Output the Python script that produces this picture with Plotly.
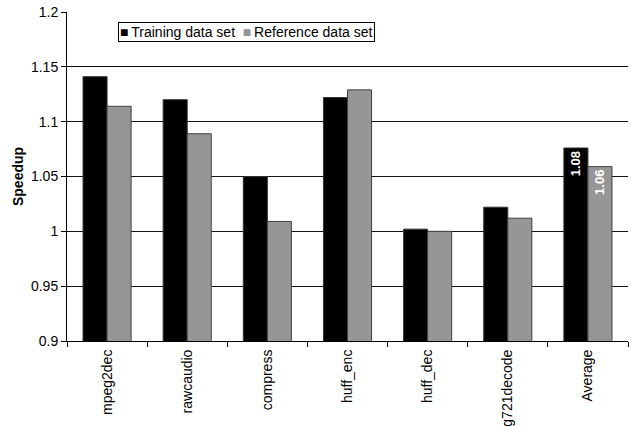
import plotly.graph_objects as go

categories = ["mpeg2dec", "rawcaudio", "compress", "huff_enc", "huff_dec", "g721decode", "Average"]
training = [1.141, 1.120, 1.050, 1.122, 1.002, 1.022, 1.076]
reference = [1.114, 1.089, 1.009, 1.129, 1.000, 1.012, 1.059]
training_labels = ["", "", "", "", "", "", "1.08"]
reference_labels = ["", "", "", "", "", "", "1.06"]
y_ticks = [0.9, 0.95, 1.0, 1.05, 1.1, 1.15, 1.2]
y_tick_text = ["0.9", "0.95", "1", "1.05", "1.1", "1.15", "1.2"]
series_names = ["Training data set", "Reference data set"]
series_colors = ["#000000", "#969696"]

font_family = "Liberation Sans, Arial, sans-serif"

fig = go.Figure()
fig.add_trace(go.Bar(
    x=categories, y=training, name=series_names[0],
    marker=dict(color=series_colors[0], line=dict(color="#333333", width=1)),
    text=training_labels, textposition="inside", textangle=-90,
    insidetextanchor="end",
    textfont=dict(color="white", size=13, family=font_family, weight="bold"),
))
fig.add_trace(go.Bar(
    x=categories, y=reference, name=series_names[1],
    marker=dict(color=series_colors[1], line=dict(color="#404040", width=1)),
    text=reference_labels, textposition="inside", textangle=-90,
    insidetextanchor="end",
    textfont=dict(color="white", size=13, family=font_family, weight="bold"),
))

legend_text = (
    f"<span style='color:{series_colors[0]}'>■</span>\u2009{series_names[0]}  "
    f"<span style='color:{series_colors[1]}'>■</span>\u2009{series_names[1]}"
)
fig.add_annotation(
    xref="paper", yref="paper", x=0.091, y=0.97, xanchor="left", yanchor="top",
    text=legend_text, showarrow=False, align="left",
    font=dict(size=14, family=font_family, color="black"),
    bordercolor="black", borderwidth=1, borderpad=1, bgcolor="white",
)

fig.update_layout(
    width=631, height=426,
    margin=dict(l=67, r=3, t=12, b=85),
    paper_bgcolor="white", plot_bgcolor="white",
    font=dict(family=font_family, size=14, color="black"),
    barmode="group", bargap=0.4, bargroupgap=0,
    showlegend=False,
)
fig.update_yaxes(
    range=[0.9, 1.2], tickvals=y_ticks, ticktext=y_tick_text,
    showgrid=True, gridcolor="#111111", gridwidth=1,
    showline=True, linecolor="black", linewidth=1,
    ticks="outside", ticklen=5, tickcolor="black",
    tickfont=dict(size=14, family=font_family),
    title=dict(text="<b>Speedup</b>", font=dict(size=14, family=font_family), standoff=4),
    zeroline=False, automargin=False,
)
fig.update_xaxes(
    showline=True, linecolor="black", linewidth=1,
    ticks="outside", ticklen=5, tickcolor="black", tickson="boundaries",
    tickangle=-90, tickfont=dict(size=14, family=font_family),
    ticklabelstandoff=2,
    automargin=False,
)

fig.write_html(
    "out.html",
    config={"displayModeBar": False},
    post_script="document.body.style.margin='0';document.body.style.overflow='hidden';",
)
